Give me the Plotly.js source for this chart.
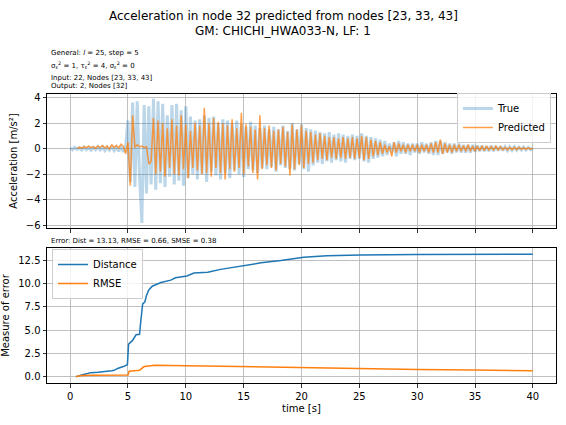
<!DOCTYPE html>
<html>
<head>
<meta charset="utf-8">
<script src="https://cdn.plot.ly/plotly-3.0.1.min.js"></script>
<style>
  html, body { margin: 0; padding: 0; background: #fff; }
  #chart { width: 566px; height: 425px; }
</style>
</head>
<body>
<div id="chart"></div>
<script>
// ---- Data ----
// Acceleration samples on a 0.2 s grid, one row per second (t = k, k+0.2, ... k+0.8)
const accStart = 0.0;
const accStep = 0.2;
const accTrue = [
  0.05,-0.08,0.10,-0.06,0.08,
  -0.10,0.12,-0.09,0.07,-0.12,
  0.10,-0.08,0.15,-0.10,0.12,
  -0.15,0.10,-0.12,0.18,-0.15,
  0.12,-0.20,0.15,-0.25,0.20,
  2.2,-2.6,3.6,-3.0,3.7,
  -2.2,-5.8,3.4,-3.5,3.3,
  -2.8,3.9,-3.2,3.7,-2.7,
  3.5,-3.0,2.6,-2.2,3.4,
  -2.8,3.5,-2.5,3.0,-2.9,
  3.3,-2.3,2.5,-2.0,2.2,
  -2.4,2.3,-2.0,2.6,-2.6,
  2.4,-1.8,2.5,-2.1,2.0,
  -2.4,2.3,-1.9,2.2,-2.3,
  2.0,-1.7,2.2,-2.0,1.9,
  -2.2,1.7,-1.6,2.1,-1.7,
  1.8,-1.9,1.6,-1.5,1.8,
  -1.6,1.5,-1.4,1.7,-1.8,
  1.5,-1.3,1.8,-1.5,1.4,
  -1.6,2.0,-1.7,1.5,-1.2,
  1.9,-1.6,1.6,-1.8,1.5,
  -1.3,1.4,-1.1,1.3,-1.2,
  1.2,-1.0,1.3,-1.1,1.1,
  -0.9,1.2,-1.0,1.1,-1.1,
  1.0,-0.8,1.1,-0.9,1.0,
  -0.8,1.2,-1.0,1.0,-1.1,
  0.9,-0.8,0.8,-0.7,0.7,
  -0.6,0.6,-0.5,0.4,-0.3,
  0.5,-0.6,0.6,-0.4,0.5,
  -0.4,0.4,-0.5,0.4,-0.3,
  0.4,-0.4,0.5,-0.3,0.4,
  -0.4,0.5,-0.5,0.6,-0.5,
  0.6,-0.4,0.5,-0.3,0.4,
  -0.4,0.4,-0.3,0.4,-0.3,
  0.3,-0.3,0.3,-0.3,0.3,
  -0.25,0.25,-0.2,0.25,-0.2,
  0.2,-0.2,0.25,-0.2,0.2,
  -0.15,0.2,-0.15,0.15,-0.15,
  0.15,-0.12,0.15,-0.12,0.12,
  -0.1,0.12,-0.1,0.1,-0.08,
  0.05
];
const accPred = [
  null,null,null,0.05,0.10,
  0.05,0.15,0.08,0.20,0.10,
  0.15,0.05,0.20,0.10,0.25,
  0.05,0.20,0.00,0.30,0.10,
  0.25,0.05,0.35,0.20,-0.40,
  0.50,-2.9,2.6,0.10,0.30,
  0.15,0.20,0.10,0.15,-1.2,
  -1.0,2.4,-2.0,2.2,-1.8,
  2.0,-2.2,1.6,-1.5,2.3,
  -2.0,1.8,-2.1,2.6,-1.6,
  1.9,-2.3,1.4,-1.5,2.0,
  -1.7,1.8,-2.0,3.2,-1.9,
  2.0,-2.2,2.4,-1.5,2.1,
  -1.9,2.0,-2.4,1.8,-1.6,
  2.3,-1.8,1.6,-1.5,2.8,
  -2.0,1.9,-1.4,1.7,-1.9,
  1.5,-2.4,2.6,-1.6,1.6,
  -1.3,1.8,-1.5,1.4,-1.7,
  1.5,-1.2,1.7,-1.4,1.3,
  -2.1,1.9,-1.6,1.5,-1.3,
  1.8,-1.5,1.4,-1.2,1.3,
  -1.1,1.1,-0.9,1.2,-0.8,
  1.0,-0.9,0.9,-0.7,0.9,
  -0.8,0.8,-0.7,0.9,-0.8,
  0.8,-0.7,0.9,-0.8,0.8,
  -0.7,1.0,-0.9,0.9,-0.8,
  0.7,-0.6,0.6,-0.5,0.5,
  -0.4,0.3,-0.3,0.2,-0.6,
  0.5,-0.3,0.4,-0.2,0.3,
  -0.3,0.3,-0.2,0.3,-0.2,
  0.3,-0.3,0.3,-0.2,0.3,
  -0.3,0.4,-0.3,0.5,-0.3,
  0.7,-0.4,0.4,-0.3,0.3,
  -0.3,0.3,-0.2,0.3,-0.2,
  0.25,-0.2,0.3,-0.2,0.2,
  -0.2,0.2,-0.15,0.2,-0.15,
  0.2,-0.1,0.15,-0.1,0.2,
  -0.1,0.15,-0.1,0.1,-0.1,
  0.1,-0.08,0.1,-0.08,0.1,
  -0.05,0.08,-0.05,0.06,-0.04,
  0.02
];

// Error measures (cumulative), irregular time points
const distT = [0.5,0.8,1.0,1.5,1.8,2.4,3.0,3.6,3.8,4.1,4.6,4.95,5.05,5.15,5.4,5.7,6.0,6.1,6.27,6.45,6.6,6.8,7.1,7.85,8.7,9.1,10.1,10.7,11.9,13.0,15.0,16.5,18.2,20.2,22.2,25.1,30,35,40];
const distV = [0,0.15,0.2,0.35,0.45,0.5,0.55,0.65,0.7,0.9,1.1,1.3,3.5,3.6,3.9,4.5,4.55,5.85,7.8,8.0,8.7,9.3,9.7,10.1,10.35,10.6,10.8,11.1,11.2,11.5,11.9,12.2,12.45,12.8,12.95,13.05,13.1,13.12,13.13];
const rmseT = [0.5,0.8,1.0,2.0,3.0,4.0,5.0,5.1,5.5,6.0,6.2,6.4,7.0,7.3,10.1,15,19.9,25,30,35,40];
const rmseV = [0.03,0.1,0.15,0.17,0.18,0.19,0.2,0.6,0.62,0.7,0.9,1.1,1.2,1.23,1.19,1.08,0.95,0.87,0.8,0.73,0.66];

const xTicks = [0,5,10,15,20,25,30,35,40];
const titleLines = ['Acceleration in node 32 predicted from nodes [23, 33, 43]', 'GM: CHICHI_HWA033-N, LF: 1'];
const infoLines = [
  'General: <i>l</i> = 25, step = 5',
  'σ<sub>ε</sub><sup>2</sup> = 1, τ<sub>ε</sub><sup>2</sup> = 4, σ<sub>ε</sub><sup>2</sup> = 0',
  'Input: 22, Nodes [23, 33, 43]',
  'Output: 2, Nodes [32]'
];
const errorText = 'Error: Dist = 13.13, RMSE = 0.66, SMSE = 0.38';

// ---- Build ----
const accT = accTrue.map((_, i) => +(accStart + i * accStep).toFixed(3));

const FONT = 'DejaVu Sans, sans-serif';
const grid = '#b0b0b0';

const traces = [
  { x: accT, y: accTrue, type: 'scatter', mode: 'lines', name: 'True',
    line: { color: 'rgba(31,119,180,0.3)', width: 3 }, xaxis: 'x', yaxis: 'y', legend: 'legend' },
  { x: accT, y: accPred, type: 'scatter', mode: 'lines', name: 'Predicted',
    line: { color: 'rgba(255,127,14,0.75)', width: 1.5 }, xaxis: 'x', yaxis: 'y', legend: 'legend' },
  { x: distT, y: distV, type: 'scatter', mode: 'lines', name: 'Distance',
    line: { color: '#1f77b4', width: 1.5 }, xaxis: 'x2', yaxis: 'y2', legend: 'legend2' },
  { x: rmseT, y: rmseV, type: 'scatter', mode: 'lines', name: 'RMSE',
    line: { color: '#ff7f0e', width: 1.5 }, xaxis: 'x2', yaxis: 'y2', legend: 'legend2' }
];

function axisBase() {
  return {
    showline: true, mirror: true, linecolor: '#000', linewidth: 1,
    showgrid: true, gridcolor: grid, gridwidth: 0.8,
    zeroline: false, ticks: 'outside', ticklen: 3.5, tickwidth: 0.8, tickcolor: '#000',
    tickfont: { family: FONT, size: 10, color: '#000' }, automargin: false
  };
}

// paper y for a pixel row: plot area spans 94..383 px
const plotTop = 94, plotH = 289;
const py = p => 1 + (plotTop - p) / plotH;

const annotations = [];
const titleY = [16, 31];
titleLines.forEach((t, i) => annotations.push({
  text: t, xref: 'paper', yref: 'paper', x: (283 - 47) / 509, y: py(titleY[i]),
  xanchor: 'center', yanchor: 'middle', showarrow: false,
  font: { family: FONT, size: 12, color: '#000' }
}));
const infoY = [53, 65, 78, 86];
infoLines.forEach((t, i) => annotations.push({
  text: t, xref: 'paper', yref: 'paper', x: 0, y: py(infoY[i]), xanchor: 'left', yanchor: 'middle',
  xshift: 2, showarrow: false, font: { family: FONT, size: 7, color: '#000' }
}));
annotations.push({
  text: errorText, xref: 'paper', yref: 'paper', x: 0, y: py(241), xanchor: 'left', yanchor: 'middle',
  xshift: 2, showarrow: false, font: { family: FONT, size: 7, color: '#000' }
});

const layout = {
  width: 566, height: 425,
  margin: { l: 47, r: 10, t: plotTop, b: 425 - plotTop - plotH },
  paper_bgcolor: '#fff', plot_bgcolor: '#fff',
  font: { family: FONT, size: 10, color: '#000' },
  xaxis: Object.assign(axisBase(), { domain: [0, 1], anchor: 'y', range: [-2, 42],
           tickvals: xTicks, showticklabels: false, matches: 'x2' }),
  yaxis: Object.assign(axisBase(), { domain: [1 - 134 / plotH, 1], anchor: 'x', range: [-6.2, 4.27],
           tickvals: [-6, -4, -2, 0, 2, 4],
           title: { text: 'Acceleration [m/s²]', font: { family: FONT, size: 10, color: '#000' }, standoff: 6 } }),
  xaxis2: Object.assign(axisBase(), { domain: [0, 1], anchor: 'y2', range: [-2, 42],
           tickvals: xTicks,
           title: { text: 'time [s]', font: { family: FONT, size: 10, color: '#000' }, standoff: 4 } }),
  yaxis2: Object.assign(axisBase(), { domain: [0, 135 / plotH], anchor: 'x2', range: [-0.657, 13.787],
           tickvals: [0, 2.5, 5, 7.5, 10, 12.5], tickformat: '.1f',
           title: { text: 'Measure of error', font: { family: FONT, size: 10, color: '#000' }, standoff: 6 } }),
  legend: { x: 0.99, y: py(93), xanchor: 'right', yanchor: 'top', xref: 'paper', yref: 'paper',
            bgcolor: 'rgba(255,255,255,0.8)', bordercolor: '#cccccc', borderwidth: 1,
            font: { family: FONT, size: 10, color: '#000' }, itemwidth: 30, tracegroupgap: 0 },
  legend2: { x: 0.0098, y: py(249), xanchor: 'left', yanchor: 'top', xref: 'paper', yref: 'paper',
            bgcolor: 'rgba(255,255,255,0.8)', bordercolor: '#cccccc', borderwidth: 1,
            font: { family: FONT, size: 10, color: '#000' }, itemwidth: 30, tracegroupgap: 0 },
  showlegend: true,
  hovermode: false,
  annotations: annotations
};

Plotly.newPlot('chart', traces, layout, { staticPlot: true, displayModeBar: false });
</script>
</body>
</html>
